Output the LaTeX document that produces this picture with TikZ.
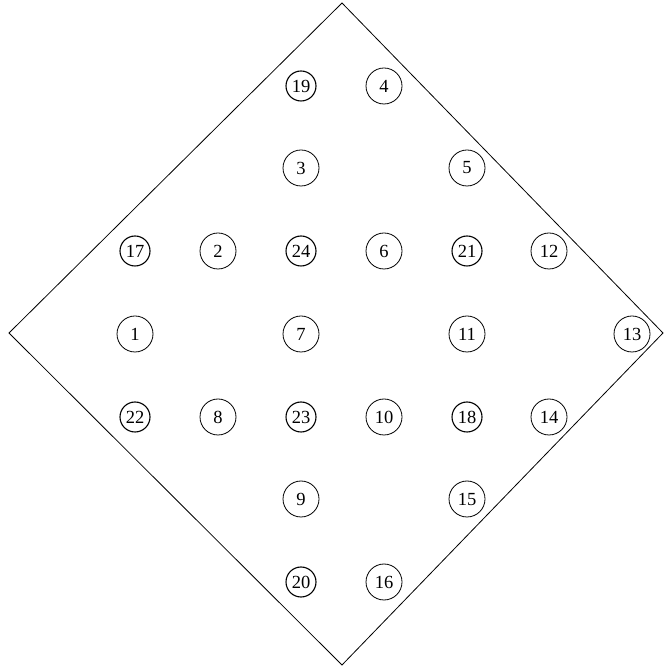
\documentclass[tikz,border=0pt]{standalone}
\usepackage{fontspec}
\setmainfont{Liberation Serif}
\begin{document}
\begin{tikzpicture}[x=1pt,y=1pt,
  num/.style={draw,circle,line width=0.8pt,minimum size=36pt,inner sep=0pt,font=\fontsize{18.5}{20}\selectfont},
  numsmall/.style={draw,circle,line width=1.1pt,minimum size=30pt,inner sep=0pt,font=\fontsize{18.5}{20}\selectfont},
  frame/.style={line width=0.8pt}]
\useasboundingbox (0,0) rectangle (665,667);
% diamond
\coordinate (T) at (342,664);
\coordinate (R) at (663,334);
\coordinate (B) at (342,2);
\coordinate (L) at (9,334);
\draw[frame] (T) -- (R) -- (B) -- (L) -- cycle;
% columns / rows
\def\ca{135}\def\cb{218}\def\cc{301}\def\cd{384}\def\ce{467}\def\cf{549}\def\cg{632}
\def\ra{581}\def\rb{499}\def\rc{416}\def\rd{333}\def\re{250}\def\rf{168}\def\rg{85}
% row 1
\node[numsmall] (n19) at (\cc,\ra) {19};
\node[num] (n4) at (\cd,\ra) {4};
% row 2
\node[num] (n3) at (\cc,\rb) {3};
\node[num] (n5) at (\ce,\rb) {5};
% row 3
\node[numsmall] (n17) at (\ca,\rc) {17};
\node[num] (n2) at (\cb,\rc) {2};
\node[numsmall] (n24) at (\cc,\rc) {24};
\node[num] (n6) at (\cd,\rc) {6};
\node[numsmall] (n21) at (\ce,\rc) {21};
\node[num] (n12) at (\cf,\rc) {12};
% row 4
\node[num] (n1) at (\ca,\rd) {1};
\node[num] (n7) at (\cc,\rd) {7};
\node[num] (n11) at (\ce,\rd) {11};
\node[num] (n13) at (\cg,\rd) {13};
% row 5
\node[numsmall] (n22) at (\ca,\re) {22};
\node[num] (n8) at (\cb,\re) {8};
\node[numsmall] (n23) at (\cc,\re) {23};
\node[num] (n10) at (\cd,\re) {10};
\node[numsmall] (n18) at (\ce,\re) {18};
\node[num] (n14) at (\cf,\re) {14};
% row 6
\node[num] (n9) at (\cc,\rf) {9};
\node[num] (n15) at (\ce,\rf) {15};
% row 7
\node[numsmall] (n20) at (\cc,\rg) {20};
\node[num] (n16) at (\cd,\rg) {16};
\end{tikzpicture}
\end{document}
